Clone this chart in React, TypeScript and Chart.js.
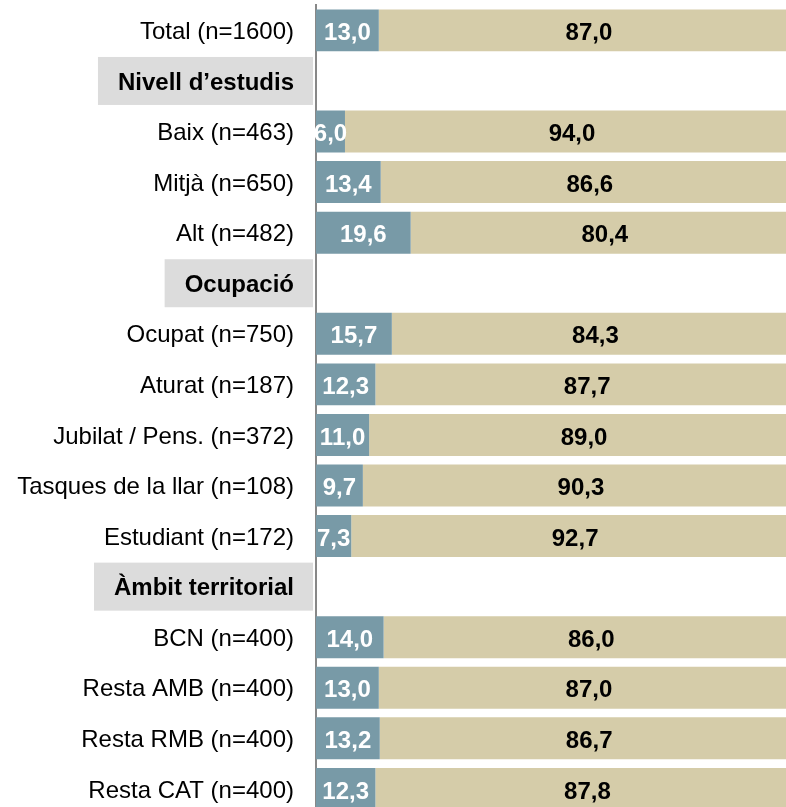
import React, { useEffect, useRef } from "react";
import { Chart, registerables } from "chart.js";

Chart.register(...registerables);

const categories: string[] = [
  "Total (n=1600)",
  "Nivell d’estudis",
  "Baix (n=463)",
  "Mitjà (n=650)",
  "Alt (n=482)",
  "Ocupació",
  "Ocupat (n=750)",
  "Aturat (n=187)",
  "Jubilat / Pens. (n=372)",
  "Tasques de la llar (n=108)",
  "Estudiant (n=172)",
  "Àmbit territorial",
  "BCN (n=400)",
  "Resta AMB (n=400)",
  "Resta RMB (n=400)",
  "Resta CAT (n=400)",
];

const headerRows: number[] = [1, 5, 11];

const seriesA: (number | null)[] = [13.0, null, 6.0, 13.4, 19.6, null, 15.7, 12.3, 11.0, 9.7, 7.3, null, 14.0, 13.0, 13.2, 12.3];
const seriesB: (number | null)[] = [87.0, null, 94.0, 86.6, 80.4, null, 84.3, 87.7, 89.0, 90.3, 92.7, null, 86.0, 87.0, 86.7, 87.8];

const BLUE = "rgb(120,154,167)";
const TAN = "rgb(213,204,169)";
const HEADER_BG = "rgb(220,220,220)";
const FONT = "'Liberation Sans', Arial, sans-serif";

const headerBoxPlugin = {
  id: "headerBoxes",
  beforeDraw(chart: any) {
    const ctx = chart.ctx;
    const y = chart.scales.y;
    ctx.save();
    ctx.font = `bold 24px ${FONT}`;
    headerRows.forEach((i) => {
      const cy = y.getPixelForValue(i);
      const w = ctx.measureText(categories[i]).width;
      const right = 313;
      const textRight = 294;
      const left = textRight - w - 20;
      ctx.fillStyle = HEADER_BG;
      ctx.fillRect(left, cy - 24, right - left, 48);
    });
    ctx.restore();
  },
};

const valueLabelPlugin = {
  id: "valueLabels",
  afterDatasetsDraw(chart: any) {
    const ctx = chart.ctx;
    ctx.save();
    ctx.font = `bold 24px ${FONT}`;
    ctx.textAlign = "center";
    ctx.textBaseline = "middle";
    chart.data.datasets.forEach((ds: any, di: number) => {
      const meta = chart.getDatasetMeta(di);
      meta.data.forEach((el: any, i: number) => {
        const v = ds.data[i];
        if (v === null || v === undefined) return;
        const { x, base, y } = el.getProps(["x", "base", "y"], true);
        ctx.fillStyle = di === 0 ? "#ffffff" : "#000000";
        ctx.fillText(v.toFixed(1).replace(".", ","), (x + base) / 2, y + 3);
      });
    });
    ctx.restore();
  },
};

export default function App() {
  const ref = useRef<HTMLCanvasElement | null>(null);

  useEffect(() => {
    if (!ref.current) return;
    const chart = new Chart(ref.current, {
      type: "bar",
      data: {
        labels: categories,
        datasets: [
          { data: seriesA, backgroundColor: BLUE, borderWidth: 0 },
          { data: seriesB, backgroundColor: TAN, borderWidth: 0 },
        ],
      },
      options: {
        indexAxis: "y",
        responsive: false,
        animation: false,
        layout: { padding: { top: 5.1, bottom: 1.8, left: 0, right: 1 } },
        plugins: { legend: { display: false }, tooltip: { enabled: false } },
        datasets: { bar: { barPercentage: 0.83, categoryPercentage: 1 } },
        scales: {
          x: { stacked: true, min: 0, max: 100, display: false },
          y: {
            stacked: true,
            grid: { display: false, drawTicks: false },
            border: { display: true, color: "rgb(136,136,136)", width: 2 },
            afterFit: (scale: any) => {
              scale.width = 316;
              scale.paddingTop = 0;
              scale.paddingBottom = 0;
            },
            ticks: {
              padding: 22,
              labelOffset: 2,
              color: "#000000",
              font: (c: any) =>
                headerRows.includes(c.index)
                  ? { family: FONT, size: 24, weight: "bold" }
                  : { family: FONT, size: 24, weight: "normal" },
            },
          },
        },
      } as any,
      plugins: [headerBoxPlugin, valueLabelPlugin],
    });
    return () => chart.destroy();
  }, []);

  return (
    <div
      style={{
        position: "fixed",
        left: 0,
        top: 0,
        width: 786,
        height: 807,
        overflow: "hidden",
        background: "#ffffff",
      }}
    >
      <canvas ref={ref} width={800} height={816} style={{ display: "block" }} />
    </div>
  );
}
